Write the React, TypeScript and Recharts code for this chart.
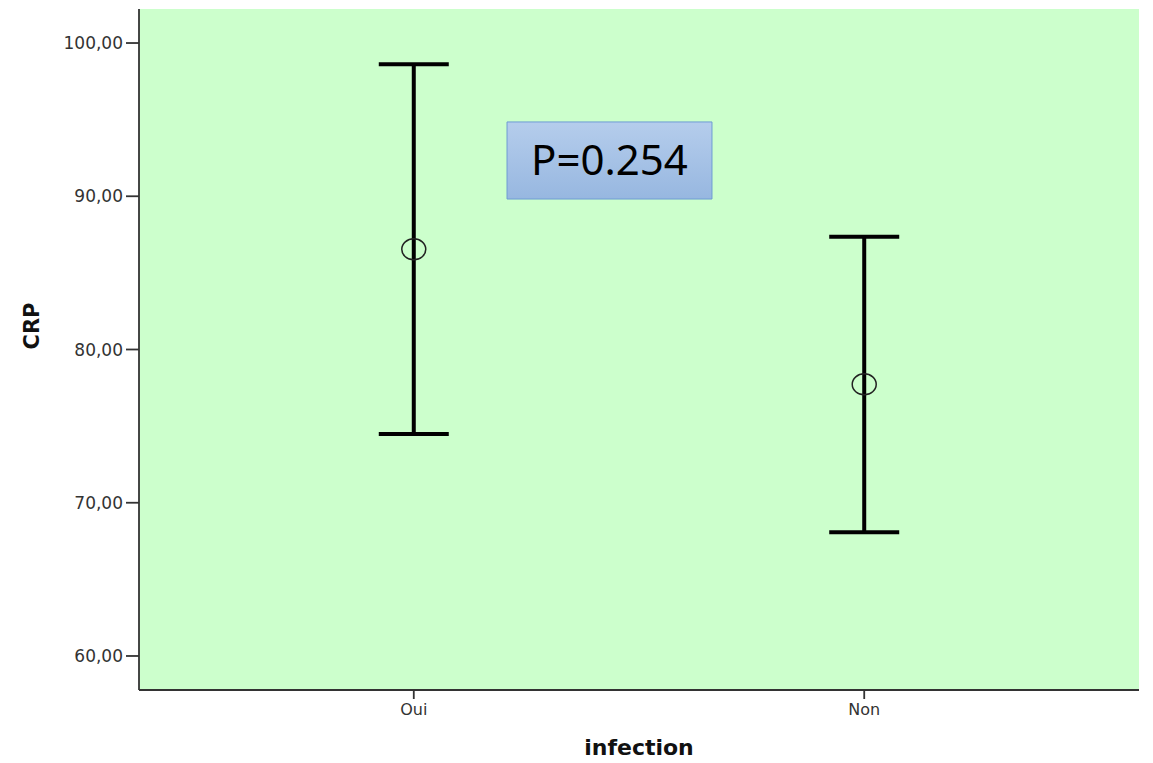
import React from 'react';
import { ComposedChart, Scatter, ErrorBar, XAxis, YAxis, CartesianGrid, ReferenceArea } from 'recharts';

const categories = ['Oui', 'Non'];
const means = [86.54, 77.73];
const lowerBounds = [74.49, 68.07];
const upperBounds = [98.61, 87.36];
const yTicks = [60, 70, 80, 90, 100];
const pValueLabel = 'P=0.254';

const data = categories.map((c, i) => ({
  x: i,
  name: c,
  mean: means[i],
  err: [means[i] - lowerBounds[i], upperBounds[i] - means[i]],
}));

const MeanCircle = (props: any) => {
  const { cx, cy } = props;
  if (cx == null || cy == null) return null;
  return <ellipse cx={cx} cy={cy} rx={12} ry={10.5} fill="none" stroke="#222" strokeWidth={1.5} />;
};

const fmt = (v: number) => v.toFixed(2).replace('.', ',');

export default function App() {
  return (
    <div style={{ position: 'absolute', left: 0, top: 0, width: 1153, height: 763, background: '#fff' }}>
      <ComposedChart width={1153} height={763} data={data} margin={{ top: 9, right: 14, left: 0, bottom: 0 }}>
        <defs>
          <linearGradient id="pbox" x1="0" y1="0" x2="0" y2="1">
            <stop offset="0%" stopColor="#b5cdec" />
            <stop offset="100%" stopColor="#97b7e0" />
          </linearGradient>
        </defs>
        <CartesianGrid fill="#ccffcc" horizontal={false} vertical={false} />
        <XAxis
          type="number"
          dataKey="x"
          domain={[-0.61, 1.61]}
          ticks={[0, 1]}
          tickFormatter={(v: number) => categories[v] ?? ''}
          height={73}
          tickSize={9}
          tickMargin={5}
          stroke="#333"
          strokeWidth={1.8}
          tick={{ fill: '#333', fontSize: 16, fontFamily: 'DejaVu Sans' }}
          allowDataOverflow
          label={{ value: 'infection', position: 'insideBottom', offset: 8, fill: '#111', fontSize: 22, fontWeight: 'bold', fontFamily: 'DejaVu Sans' }}
        />
        <XAxis xAxisId="top" orientation="top" type="number" domain={[0, 1]} tick={false} tickLine={false} height={0} stroke="#444" strokeWidth={1.8} />
        <YAxis
          type="number"
          domain={[57.78, 102.22]}
          ticks={yTicks}
          tickFormatter={fmt}
          width={139}
          tickSize={13}
          tickMargin={3}
          stroke="#333"
          strokeWidth={1.8}
          allowDataOverflow
          tick={{ fill: '#333', fontSize: 17, fontFamily: 'DejaVu Sans' }}
          label={{ value: 'CRP', angle: -90, position: 'insideLeft', offset: 32, fill: '#111', fontSize: 21, fontWeight: 'bold', fontFamily: 'DejaVu Sans' }}
        />
        <YAxis yAxisId="right" orientation="right" type="number" domain={[0, 1]} tick={false} tickLine={false} width={0} stroke="#555" strokeWidth={2} />
        <ReferenceArea
          x1={0.207}
          x2={0.662}
          y1={89.82}
          y2={94.85}
          fill="url(#pbox)"
          fillOpacity={1}
          stroke="#6e9bd3"
          strokeWidth={1}
          label={{ value: pValueLabel, position: 'center', fill: '#000', fontSize: 42, fontFamily: 'Noto Sans' }}
        />
        <Scatter dataKey="mean" shape={<MeanCircle />} isAnimationActive={false}>
          <ErrorBar dataKey="err" direction="y" width={35} stroke="#000" strokeWidth={4} isAnimationActive={false} />
        </Scatter>
      </ComposedChart>
    </div>
  );
}
